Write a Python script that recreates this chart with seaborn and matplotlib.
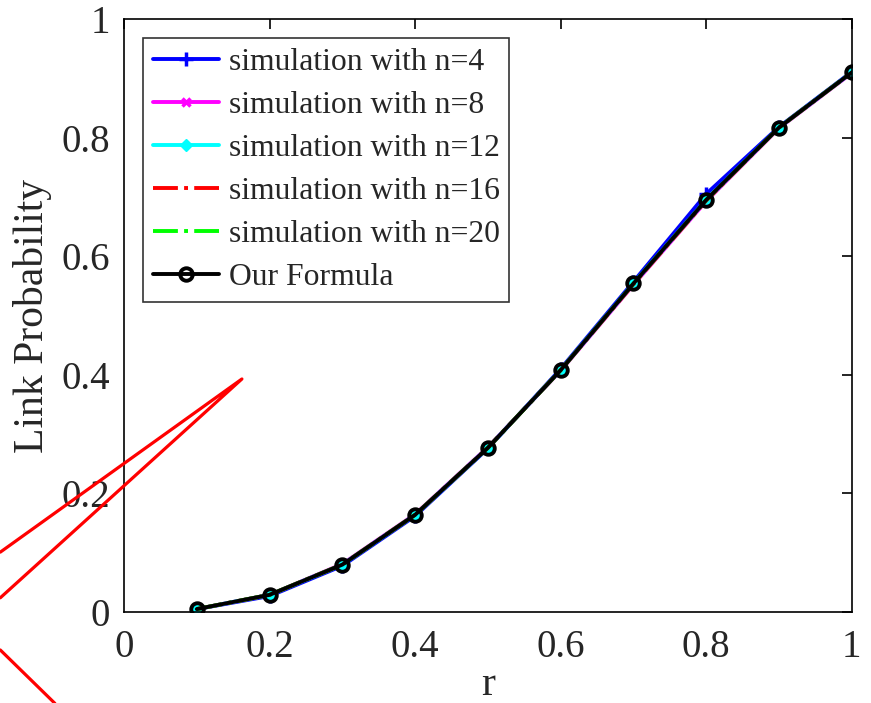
import matplotlib
matplotlib.use("Agg")
import matplotlib.pyplot as plt
import seaborn as sns
import numpy as np
import pandas as pd

r = [0.1, 0.2, 0.3, 0.4, 0.5, 0.6, 0.7, 0.8, 0.9, 1.0]
sim_n4 = [0.005, 0.027, 0.078, 0.162, 0.276, 0.410, 0.557, 0.705, 0.818, 0.911]
sim_n8 = [0.005, 0.029, 0.081, 0.165, 0.278, 0.407, 0.552, 0.693, 0.816, 0.909]
sim_n12 = [0.005, 0.029, 0.080, 0.164, 0.277, 0.408, 0.554, 0.695, 0.817, 0.910]
sim_n16 = [0.005, 0.029, 0.080, 0.164, 0.277, 0.408, 0.553, 0.694, 0.817, 0.910]
sim_n20 = [0.005, 0.029, 0.080, 0.164, 0.277, 0.408, 0.554, 0.695, 0.817, 0.910]
formula = [0.005, 0.029, 0.080, 0.164, 0.277, 0.408, 0.554, 0.695, 0.817, 0.910]

labels = ["simulation with n=4", "simulation with n=8", "simulation with n=12",
          "simulation with n=16", "simulation with n=20", "Our Formula"]
xticks = [0, 0.2, 0.4, 0.6, 0.8, 1]
xticklabels = ["0", "0.2", "0.4", "0.6", "0.8", "1"]
yticks = [0, 0.2, 0.4, 0.6, 0.8, 1]
yticklabels = ["0", "0.2", "0.4", "0.6", "0.8", "1"]

# red annotation strokes (data coords, drawn outside axes)
red_x1 = [-0.170, 0.162, -0.170]
red_y1 = [0.101, 0.393, 0.024]
red_x2 = [-0.170, -0.095]
red_y2 = [-0.064, -0.154]

sns.set_style("white")
plt.rcParams['font.family'] = ['Liberation Serif', 'DejaVu Serif']

fig = plt.figure(figsize=(8.71, 7.03), dpi=100)
ax = fig.add_axes([0.1424, 0.1294, 0.978 - 0.1424, 0.973 - 0.1294])

series = [sim_n4, sim_n8, sim_n12, sim_n16, sim_n20, formula]
colors = ["#0000ff", "#ff00ff", "#00ffff", "#ff0000", "#00ff00", "#000000"]
styles = [
    dict(marker="+", linestyle="-", markersize=10, markeredgewidth=2.5, markerfacecolor=colors[0]),
    dict(marker="x", linestyle="-", markersize=6, markeredgewidth=2.5, markerfacecolor=colors[1]),
    dict(marker="D", linestyle="-", markersize=6, markeredgewidth=1, markerfacecolor=colors[2]),
    dict(marker="None", linestyle="-.", markersize=0, markeredgewidth=0, markerfacecolor=colors[3]),
    dict(marker="None", linestyle="-.", markersize=0, markeredgewidth=0, markerfacecolor=colors[4]),
    dict(marker="o", linestyle="-", markersize=9, markeredgewidth=2.8, markerfacecolor="none"),
]
handles = []
for vals, lab, st, c in zip(series, labels, styles, colors):
    df = pd.DataFrame({"r": r, "p": vals})
    sns.lineplot(data=df, x="r", y="p", ax=ax, color=c, linewidth=2.8, legend=False)
    ln = ax.lines[-1]
    ln.set_linestyle(st["linestyle"])
    ln.set_marker(st["marker"])
    ln.set_markersize(st["markersize"])
    ln.set_markeredgewidth(st["markeredgewidth"])
    ln.set_markeredgecolor(c)
    ln.set_markerfacecolor(st["markerfacecolor"])
    ln.set_color(c)
    ln.set_label(lab)
    handles.append(ln)

for xs, ys in [(red_x1, red_y1), (red_x2, red_y2)]:
    ax.plot(xs, ys, color="#ff0000", linewidth=2.3, clip_on=False, zorder=10)

ax.set_xlim(0, 1)
ax.set_ylim(0, 1)
ax.set_xticks(xticks)
ax.set_xticklabels(xticklabels)
ax.set_yticks(yticks)
ax.set_yticklabels(yticklabels)
ax.tick_params(direction="in", length=7, width=1.2, top=True, right=True,
               labelsize=28, pad=10, color="black")
ax.tick_params(axis="x", pad=12)
for s in ax.spines.values():
    s.set_visible(True)
    s.set_color("black")
    s.set_linewidth(1.2)

ax.set_xlabel("r", fontsize=30, labelpad=0)
ax.set_ylabel("Link Probability", fontsize=30, labelpad=7)

leg = ax.legend(handles=handles, labels=labels, loc="upper left", fontsize=22.8,
                frameon=True, fancybox=False, edgecolor="black", handlelength=2.1,
                labelspacing=0.44, borderaxespad=0.6, handletextpad=0.3,
                borderpad=0.3)
leg.get_frame().set_linewidth(1.2)

fig.savefig("out.png", dpi=100)
